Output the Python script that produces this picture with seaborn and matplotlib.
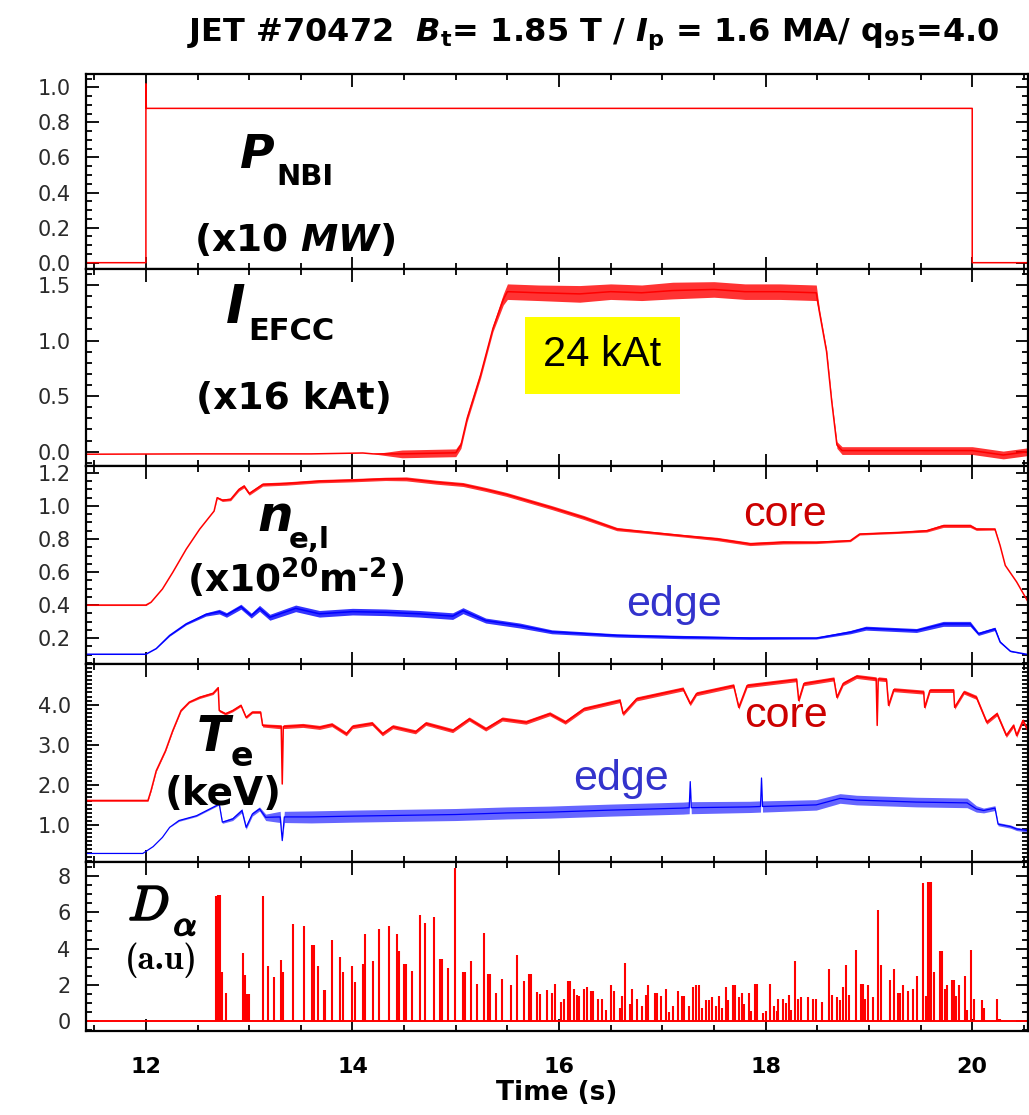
import numpy as np
import pandas as pd
import matplotlib
matplotlib.use("Agg")
import matplotlib.pyplot as plt
import matplotlib.patheffects as pe
from matplotlib import font_manager
from matplotlib.ticker import MultipleLocator, FormatStrFormatter
import seaborn as sns

# ---- DATA ----
# NBI power (x10 MW)
pnbi_t = [11.42, 12.0, 12.0, 12.004, 20.0, 20.0, 20.54]
pnbi = [0.0, 0.0, 1.02, 0.88, 0.88, 0.0, 0.0]

# EFCC current (x16 kAt)
iefcc_t = [11.42, 12.5, 13.0, 13.6, 14.1, 14.2, 14.48, 15.0, 15.05, 15.11, 15.24, 15.36, 15.46, 15.5,
           15.8, 16.2, 16.5, 16.8, 17.1, 17.5, 17.8, 18.14, 18.49, 18.52, 18.59, 18.64, 18.69, 18.74,
           19.5, 20.0, 20.3, 20.54]
iefcc = [-0.023, -0.02, -0.02, -0.02, -0.012, -0.02, -0.02, -0.01, 0.06, 0.30, 0.69, 1.11, 1.37, 1.44,
         1.43, 1.42, 1.44, 1.43, 1.45, 1.46, 1.44, 1.44, 1.43, 1.26, 0.90, 0.45, 0.06, 0.01,
         0.01, 0.01, -0.03, 0.0]
iefcc_noise = [0, 0, 0, 0, 0, 0, 0.035, 0.035, 0.03, 0.03, 0.03, 0.03, 0.05, 0.07,
               0.07, 0.075, 0.07, 0.07, 0.075, 0.07, 0.07, 0.07, 0.07, 0.03, 0.02, 0.02, 0.03, 0.035,
               0.035, 0.035, 0.035, 0.035]

# line-integrated density, core and edge (x1e20 m^-2)
ne_core_t = [11.42, 12.0, 12.05, 12.16, 12.26, 12.39, 12.52, 12.66, 12.69, 12.74, 12.82, 12.90, 12.95, 13.0,
             13.13, 13.36, 13.68, 14.0, 14.32, 14.52, 14.81, 15.07, 15.29, 15.49, 15.71, 15.93, 16.24, 16.56,
             16.88, 17.2, 17.53, 17.85, 18.17, 18.49, 18.82, 18.91, 19.30, 19.56, 19.72, 19.98, 20.04, 20.22,
             20.27, 20.32, 20.43, 20.54]
ne_core = [0.40, 0.40, 0.417, 0.497, 0.598, 0.738, 0.859, 0.969, 1.05, 1.035, 1.04, 1.10, 1.12, 1.075,
           1.13, 1.136, 1.15, 1.156, 1.164, 1.164, 1.144, 1.13, 1.10, 1.07, 1.03, 0.99, 0.93, 0.86,
           0.84, 0.82, 0.80, 0.77, 0.78, 0.78, 0.79, 0.83, 0.84, 0.85, 0.88, 0.88, 0.86, 0.86,
           0.76, 0.64, 0.54, 0.42]
ne_core_noise = [0.003, 0.003, 0, 0, 0, 0, 0, 0, 0.005, 0.008, 0.008, 0.01, 0.01, 0.01,
                 0.01, 0.01, 0.01, 0.01, 0.01, 0.012, 0.012, 0.012, 0.012, 0.012, 0.012, 0.012, 0.012, 0.01,
                 0.008, 0.008, 0.01, 0.01, 0.01, 0.008, 0.006, 0.006, 0.006, 0.008, 0.01, 0.01, 0.008, 0.006,
                 0, 0, 0, 0]

ne_edge_t = [11.42, 12.0, 12.1, 12.23, 12.39, 12.58, 12.71, 12.78, 12.92, 13.02, 13.10, 13.20, 13.45, 13.68,
             14.0, 14.32, 14.65, 14.97, 15.07, 15.29, 15.62, 15.93, 16.56, 17.2, 17.85, 18.49, 18.82, 18.97,
             19.46, 19.72, 19.98, 20.06, 20.22, 20.27, 20.37, 20.54]
ne_edge = [0.102, 0.102, 0.136, 0.216, 0.286, 0.343, 0.36, 0.34, 0.39, 0.336, 0.38, 0.326, 0.38, 0.347,
           0.36, 0.356, 0.347, 0.333, 0.366, 0.306, 0.276, 0.238, 0.216, 0.206, 0.20, 0.20, 0.236, 0.26,
           0.246, 0.286, 0.286, 0.226, 0.256, 0.176, 0.12, 0.10]
ne_edge_noise = [0, 0, 0, 0.004, 0.006, 0.01, 0.014, 0.014, 0.015, 0.015, 0.018, 0.018, 0.02, 0.02,
                 0.02, 0.02, 0.02, 0.02, 0.018, 0.015, 0.015, 0.012, 0.01, 0.01, 0.008, 0.006, 0.01, 0.012,
                 0.012, 0.015, 0.015, 0.01, 0.01, 0.005, 0.002, 0]

# electron temperature, core and edge (keV)
te_core_t = [11.42, 12.02, 12.05, 12.10, 12.19, 12.26, 12.34, 12.42, 12.52, 12.65, 12.70, 12.71, 12.77, 12.84,
             12.92, 12.97, 13.03, 13.11, 13.13, 13.29, 13.31, 13.32, 13.33, 13.52, 13.68, 13.80, 13.94, 14.0,
             14.19, 14.29, 14.39, 14.61, 14.71, 14.97, 15.13, 15.29, 15.45, 15.68, 15.91, 16.06, 16.24, 16.59,
             16.62, 16.75, 17.2, 17.27, 17.33, 17.69, 17.74, 17.82, 18.30, 18.32, 18.37, 18.66, 18.69, 18.75,
             18.88, 19.07, 19.08, 19.09, 19.17, 19.19, 19.24, 19.53, 19.54, 19.59, 19.82, 19.83, 19.92, 20.04,
             20.14, 20.24, 20.33, 20.40, 20.43, 20.49, 20.54]
te_core = [1.61, 1.61, 1.86, 2.35, 2.85, 3.35, 3.85, 4.06, 4.18, 4.28, 4.42, 3.85, 3.77, 3.85,
           3.98, 3.68, 3.81, 3.81, 3.48, 3.45, 3.45, 2.02, 3.45, 3.48, 3.43, 3.50, 3.27, 3.45,
           3.53, 3.27, 3.45, 3.32, 3.53, 3.35, 3.64, 3.39, 3.64, 3.56, 3.77, 3.56, 3.89, 4.10,
           3.77, 4.14, 4.39, 4.02, 4.27, 4.47, 3.93, 4.47, 4.62, 4.10, 4.52, 4.64, 4.18, 4.52,
           4.70, 4.64, 3.48, 4.64, 4.62, 3.98, 4.37, 4.31, 3.93, 4.35, 4.35, 3.93, 4.31, 4.18,
           3.56, 3.77, 3.23, 3.48, 3.23, 3.60, 3.35]
te_core_noise = [0.02, 0.02, 0.02, 0.02, 0.02, 0.02, 0.02, 0.02, 0.03, 0.03, 0.03, 0.03, 0.03, 0.03,
                 0.03, 0.03, 0.03, 0.03, 0.04, 0.05, 0.05, 0, 0.05, 0.05, 0.05, 0.05, 0.05, 0.05,
                 0.05, 0.05, 0.05, 0.05, 0.05, 0.05, 0.05, 0.05, 0.05, 0.05, 0.05, 0.05, 0.05, 0.05,
                 0.05, 0.05, 0.05, 0.05, 0.05, 0.05, 0.05, 0.05, 0.05, 0.05, 0.05, 0.05, 0.05, 0.05,
                 0.05, 0.05, 0, 0.05, 0.05, 0.05, 0.05, 0.05, 0.05, 0.05, 0.05, 0.05, 0.05, 0.05,
                 0.05, 0.05, 0.05, 0.05, 0.05, 0.05, 0.05]

te_edge_t = [11.42, 11.97, 12.07, 12.16, 12.23, 12.32, 12.49, 12.68, 12.71, 12.74, 12.84, 12.93, 12.97, 13.03,
             13.10, 13.16, 13.30, 13.32, 13.34, 13.6, 14.0, 14.5, 15.0, 15.5, 15.91, 16.5, 17.2, 17.26,
             17.27, 17.28, 17.85, 17.95, 17.96, 17.97, 18.49, 18.72, 18.88, 19.46, 19.95, 20.04, 20.11, 20.22,
             20.25, 20.37, 20.43, 20.54]
te_edge = [0.29, 0.29, 0.46, 0.69, 0.94, 1.11, 1.23, 1.48, 1.52, 1.07, 1.15, 1.36, 0.94, 1.27,
           1.40, 1.19, 1.20, 0.61, 1.20, 1.20, 1.22, 1.24, 1.26, 1.30, 1.32, 1.37, 1.42, 1.43,
           2.08, 1.43, 1.45, 1.46, 2.17, 1.46, 1.50, 1.66, 1.62, 1.57, 1.55, 1.40, 1.36, 1.42,
           1.02, 0.96, 0.90, 0.86]
te_edge_noise = [0, 0, 0, 0, 0, 0.02, 0.02, 0.02, 0.02, 0.03, 0.04, 0.05, 0.05, 0.05,
                 0.05, 0.08, 0.14, 0, 0.14, 0.15, 0.15, 0.15, 0.15, 0.15, 0.15, 0.15, 0.15, 0.15,
                 0, 0.15, 0.14, 0.14, 0, 0.14, 0.13, 0.12, 0.12, 0.12, 0.12, 0.08, 0.06, 0.06,
                 0.04, 0.04, 0.04, 0.04]

# D-alpha spikes (a.u.)
dalpha_t = [12.68, 12.69, 12.70, 12.71, 12.72, 12.74, 12.78, 12.94, 12.96, 12.98, 13.00, 13.13, 13.18, 13.24,
            13.31, 13.33, 13.42, 13.53, 13.61, 13.63, 13.67, 13.72, 13.73, 13.80, 13.88, 13.91, 14.00, 14.02,
            14.10, 14.12, 14.20, 14.26, 14.35, 14.43, 14.45, 14.50, 14.52, 14.58, 14.65, 14.70, 14.79, 14.85,
            14.87, 14.92, 14.99, 15.07, 15.09, 15.15, 15.21, 15.27, 15.31, 15.33, 15.39, 15.45, 15.53, 15.59,
            15.66, 15.71, 15.73, 15.79, 15.82, 15.88, 15.93, 15.96, 16.02, 16.05, 16.09, 16.11, 16.14, 16.17,
            16.19, 16.24, 16.27, 16.31, 16.33, 16.38, 16.42, 16.45, 16.50, 16.53, 16.59, 16.61, 16.64, 16.69,
            16.71, 16.75, 16.80, 16.84, 16.86, 16.93, 16.95, 16.99, 17.04, 17.06, 17.10, 17.15, 17.19, 17.21,
            17.26, 17.30, 17.33, 17.35, 17.38, 17.42, 17.45, 17.48, 17.52, 17.55, 17.58, 17.62, 17.64, 17.68,
            17.70, 17.74, 17.77, 17.79, 17.84, 17.86, 17.90, 17.92, 17.97, 18.00, 18.04, 18.08, 18.11, 18.12,
            18.17, 18.20, 18.23, 18.25, 18.28, 18.31, 18.34, 18.41, 18.46, 18.49, 18.55, 18.61, 18.64, 18.69,
            18.72, 18.75, 18.78, 18.81, 18.87, 18.92, 18.94, 18.96, 18.99, 19.04, 19.09, 19.12, 19.20, 19.24,
            19.28, 19.30, 19.33, 19.38, 19.43, 19.47, 19.52, 19.55, 19.57, 19.58, 19.60, 19.63, 19.69, 19.71,
            19.74, 19.76, 19.80, 19.82, 19.84, 19.87, 19.93, 19.95, 19.99, 20.02, 20.09, 20.11, 20.24, 20.25,
            20.27]
dalpha = [6.90, 6.90, 6.94, 6.97, 6.97, 2.70, 1.58, 3.78, 2.53, 1.52, 1.52, 6.90, 3.05, 2.44,
          3.36, 2.72, 5.34, 5.23, 4.18, 4.18, 3.03, 1.71, 1.71, 4.50, 3.54, 2.72, 3.03, 2.17,
          3.14, 4.81, 3.34, 5.10, 5.23, 4.81, 3.85, 3.14, 3.14, 2.75, 5.83, 5.41, 5.72, 3.45,
          3.45, 2.94, 8.44, 2.72, 2.72, 3.34, 2.07, 4.88, 2.62, 2.62, 1.58, 2.31, 1.98, 3.67,
          2.20, 2.62, 2.62, 1.61, 1.49, 1.71, 1.58, 2.07, 1.06, 1.25, 2.20, 2.20, 1.80, 1.47,
          1.39, 1.80, 1.89, 1.67, 1.67, 1.25, 1.25, 0.64, 1.98, 1.69, 0.73, 1.38, 3.23, 0.97,
          1.78, 1.25, 0.84, 1.47, 1.98, 1.58, 1.58, 1.38, 1.78, 0.51, 0.84, 1.69, 1.38, 1.38,
          0.86, 1.89, 1.98, 1.98, 0.73, 1.16, 1.16, 1.34, 0.86, 1.38, 0.75, 1.87, 1.16, 1.98,
          1.98, 1.34, 1.58, 0.94, 1.58, 0.55, 2.07, 2.07, 0.46, 0.57, 2.07, 0.84, 0.57, 1.25,
          1.25, 1.03, 1.45, 0.64, 3.34, 1.25, 1.34, 1.34, 1.25, 1.25, 1.05, 2.90, 1.45, 1.34,
          1.16, 1.87, 3.12, 1.45, 3.94, 2.07, 2.07, 1.25, 1.98, 1.34, 6.15, 3.12, 2.29, 2.90,
          1.58, 1.58, 1.98, 1.67, 1.78, 2.50, 7.60, 1.38, 7.67, 7.67, 7.67, 2.72, 3.85, 3.85,
          1.78, 1.98, 2.29, 2.29, 1.38, 1.98, 2.50, 0.64, 3.94, 1.25, 1.16, 0.73, 1.25, 0.15,
          0.15]
dalpha_base_t = [11.42, 20.54]
dalpha_base = [0.0, 0.0]

RED = "#ff0000"
BLUE = "#0000ff"


def trace(ax, t, v, color, noise=None, lw=1.1, alpha=0.8):
    if noise is not None:
        lo = np.array(v) - np.array(noise)
        hi = np.array(v) + np.array(noise)
        ax.fill_between(t, lo, hi, color=color, lw=0, alpha=alpha)
    df = pd.DataFrame({"t": t, "v": v})
    sns.lineplot(data=df, x="t", y="v", ax=ax, color=color, lw=lw, estimator=None, sort=False)
    ax.set_xlabel("")
    ax.set_ylabel("")


def style(ax, ylim, minor, fmt, yticks):
    ax.set_xlim(11.42, 20.54)
    ax.set_ylim(*ylim)
    ax.xaxis.set_major_locator(MultipleLocator(2))
    ax.xaxis.set_minor_locator(MultipleLocator(0.5))
    ax.set_yticks(yticks)
    ax.yaxis.set_minor_locator(MultipleLocator(minor))
    ax.yaxis.set_major_formatter(FormatStrFormatter(fmt))
    ax.tick_params(which="both", direction="in", top=True, right=True, width=1.3, colors="black")
    ax.tick_params(which="major", length=9)
    ax.tick_params(which="minor", length=4.5)
    ax.tick_params(axis="y", labelsize=15, labelcolor="#2a2a2a", pad=11)
    ax.tick_params(axis="x", labelbottom=False)
    for s in ax.spines.values():
        s.set_linewidth(1.6)
        s.set_color("black")


sns.set_theme(style="ticks")
plt.rcParams["font.family"] = ["DejaVu Sans"]
plt.rcParams["text.color"] = "black"
plt.rcParams["mathtext.fontset"] = "custom"
plt.rcParams["mathtext.rm"] = "DejaVu Sans:bold"
plt.rcParams["mathtext.it"] = "DejaVu Sans:italic:bold"
plt.rcParams["mathtext.bf"] = "DejaVu Sans:bold"

names = {f.name for f in font_manager.fontManager.ttflist}
plain = "Liberation Sans" if "Liberation Sans" in names else "DejaVu Sans"
serif_bold = "cmb10" if "cmb10" in names else "DejaVu Serif"

fig = plt.figure(figsize=(10.29, 11.15), dpi=100)
L, W = 86 / 1029, 942 / 1029
rows = [(74, 269), (269, 466), (466, 664), (664, 862), (862, 1031)]
axes = []
for top, bot in rows:
    ax = fig.add_axes([L, 1 - bot / 1115, W, (bot - top) / 1115], sharex=axes[0] if axes else None)
    axes.append(ax)
ax_p, ax_i, ax_n, ax_t, ax_d = axes

# ---- TRACES ----
trace(ax_p, pnbi_t, pnbi, RED)
trace(ax_i, iefcc_t, iefcc, RED, iefcc_noise)
trace(ax_n, ne_core_t, ne_core, RED, ne_core_noise)
trace(ax_n, ne_edge_t, ne_edge, BLUE, ne_edge_noise)
trace(ax_t, te_core_t, te_core, RED, te_core_noise)
trace(ax_t, te_edge_t, te_edge, BLUE, te_edge_noise, lw=0.9, alpha=0.6)
trace(ax_d, dalpha_base_t, dalpha_base, RED, lw=1.4)
ax_d.vlines(dalpha_t, 0, dalpha, color=RED, lw=1.5)

style(ax_p, (-0.036, 1.076), 0.05, "%.1f", [0, 0.2, 0.4, 0.6, 0.8, 1.0])
style(ax_i, (-0.129, 1.644), 0.1, "%.1f", [0, 0.5, 1.0, 1.5])
style(ax_n, (0.043, 1.242), 0.05, "%.1f", [0.2, 0.4, 0.6, 0.8, 1.0, 1.2])
style(ax_t, (0.077, 5.01), 0.1, "%.1f", [1, 2, 3, 4])
style(ax_d, (-0.53, 8.77), 0.5, "%d", [0, 2, 4, 6, 8])
ax_d.tick_params(axis="x", labelbottom=True, labelsize=16, labelcolor="black", pad=19)
for lab in ax_d.get_xticklabels():
    lab.set_fontweight("bold")
ax_d.set_xlabel("Time (s)", fontsize=19, fontweight="bold", color="black", labelpad=2)

# ---- LABELS ----
bold = dict(fontweight="bold", color="black")
ax_p.text(12.91, 0.54, "P", fontsize=34, style="italic", va="baseline", **bold)
ax_p.text(13.26, 0.443, "NBI", fontsize=21, va="baseline", **bold)
ax_p.text(13.44, 0.124, "(x10 $MW$)", fontsize=27, ha="center", va="center", **bold)

ax_i.text(12.77, 1.156, "I", fontsize=38, style="italic", va="baseline", **bold)
ax_i.text(12.99, 1.005, "EFCC", fontsize=22, va="baseline", **bold)
ax_i.text(13.43, 0.474, "(x16 kAt)", fontsize=27, ha="center", va="center", **bold)
ax_i.text(16.42, 0.866, "24 kAt", fontsize=30, family=plain, color="black", ha="center", va="center",
          bbox=dict(boxstyle="square,pad=0.45", fc="#ffff00", ec="none"))

ax_n.text(13.08, 0.849, "n", fontsize=36, style="italic", va="baseline", **bold)
ax_n.text(13.38, 0.745, "e,l", fontsize=21, va="baseline", **bold)
ax_n.text(13.45, 0.558, r"(x10$^{20}$m$^{\text{-}2}$)", fontsize=27, ha="center", va="center", **bold)
ax_n.text(18.19, 0.877, "core", fontsize=31, family=plain, color="#cc0000", ha="center", va="baseline")
ax_n.text(17.11, 0.331, "edge", fontsize=31, family=plain, color="#3333cc", ha="center", va="baseline")

ax_t.text(12.49, 2.85, "T", fontsize=35, style="italic", va="baseline", **bold)
ax_t.text(12.82, 2.47, "e", fontsize=24, va="baseline", **bold)
ax_t.text(12.75, 1.77, "(keV)", fontsize=28, ha="center", va="center", **bold)
ax_t.text(18.20, 3.44, "core", fontsize=31, family=plain, color="#cc0000", ha="center", va="baseline")
ax_t.text(16.60, 1.87, "edge", fontsize=31, family=plain, color="#3333cc", ha="center", va="baseline")

thick = [pe.withStroke(linewidth=1.6, foreground="black")]
ax_d.text(11.83, 5.58, r"$D$", fontsize=35, math_fontfamily="cm", color="black", va="baseline",
          path_effects=thick)
ax_d.text(12.27, 4.75, r"$\alpha$", fontsize=25, math_fontfamily="cm", color="black", va="baseline",
          path_effects=thick)
ax_d.text(12.145, 3.35, "(a.u)", fontsize=25, family=serif_bold, color="black", ha="center", va="center")

fig.text(0.577, 1 - 41 / 1115, r"JET #70472  $B_\mathrm{t}$= 1.85 T / $I_\mathrm{p}$ = 1.6 MA/ q$_\mathrm{95}$=4.0",
         fontsize=23, fontweight="bold", color="black", ha="center", va="baseline")

fig.savefig("out.png", dpi=100)
